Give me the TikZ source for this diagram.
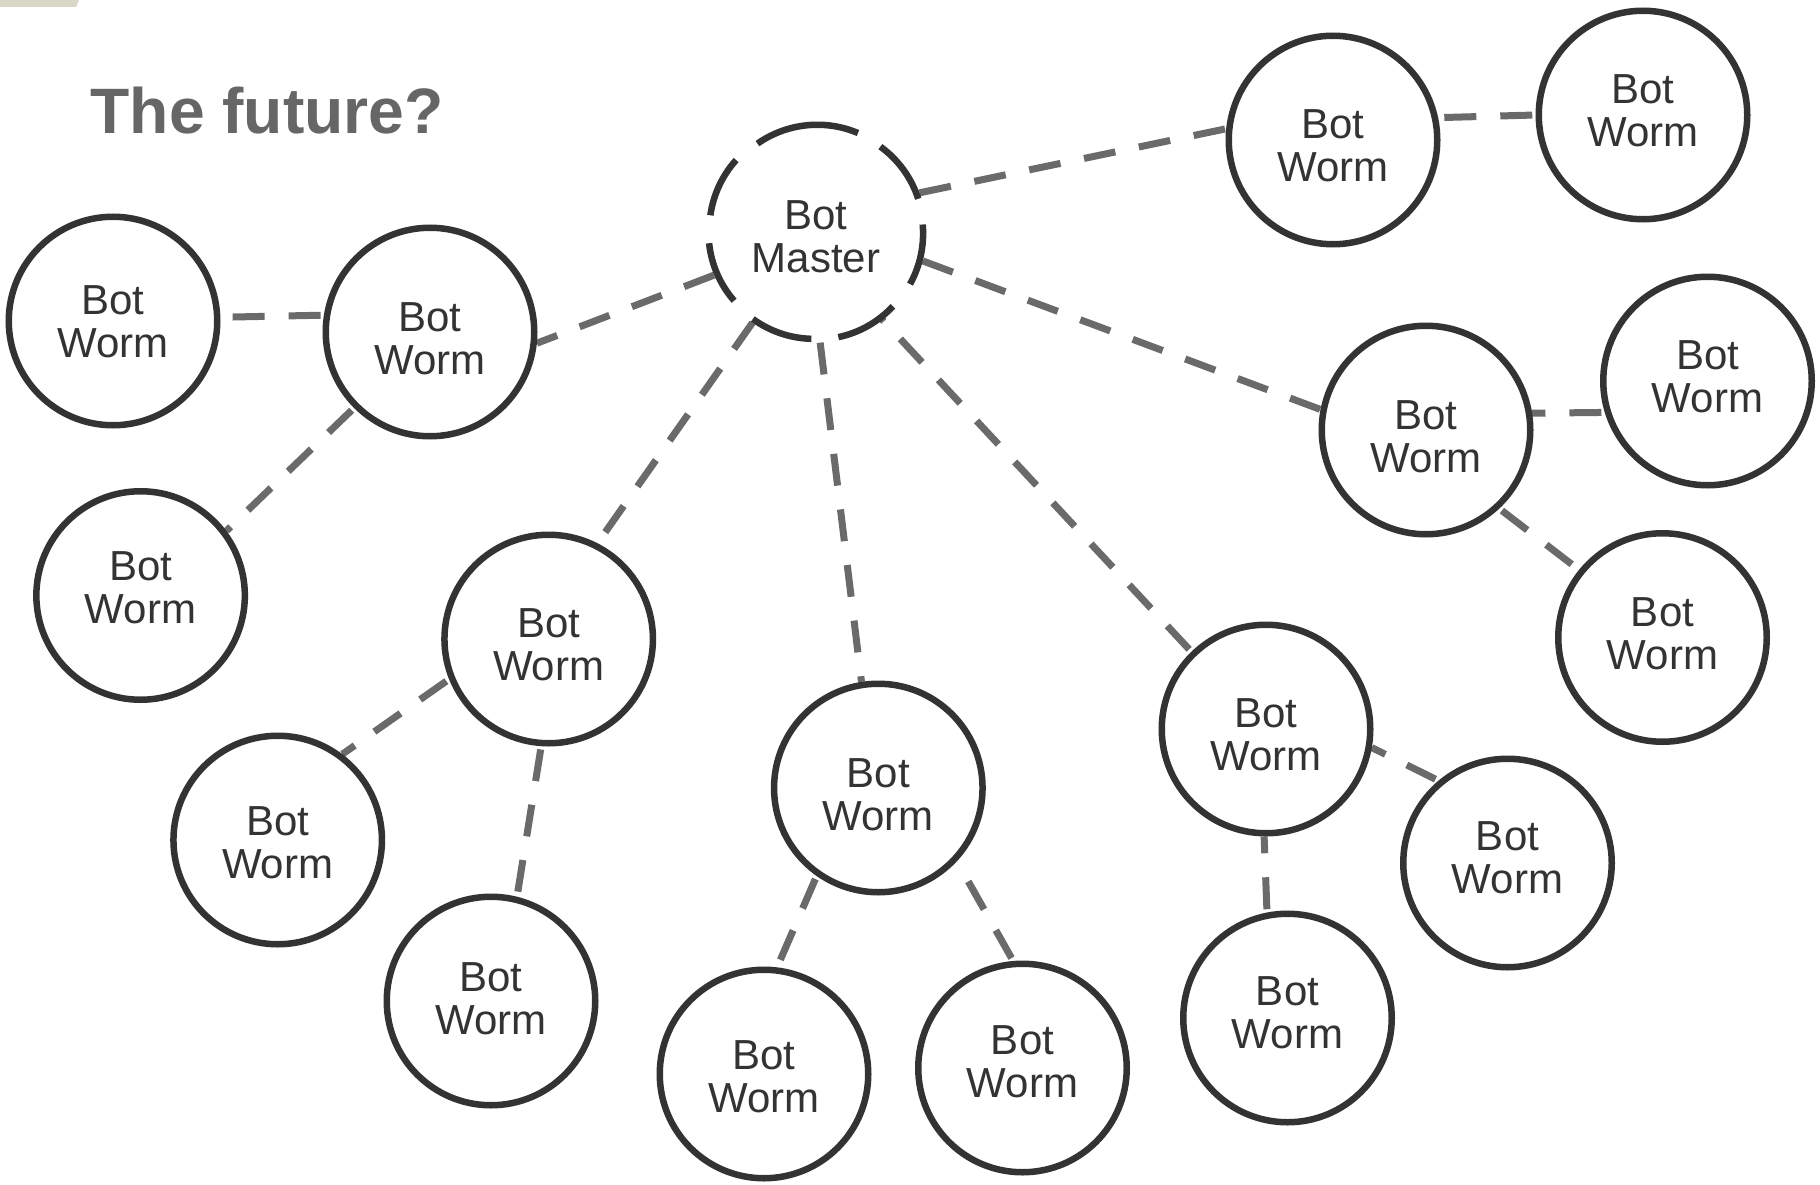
\documentclass[tikz,border=0pt]{standalone}
\usepackage{fontspec}
\setmainfont{Liberation Sans}
\usetikzlibrary{backgrounds}

\definecolor{ring}{HTML}{333333}
\definecolor{linkgray}{HTML}{6A6A6A}
\definecolor{labelgray}{HTML}{333333}
\definecolor{titlegray}{HTML}{666666}
\definecolor{tabbeige}{HTML}{D9D7C8}

% two-line label; #1 = strut height on the first line, #3 = strut depth on the last line
\newcommand{\botlabel}[3]{\rule{0pt}{#1pt}Bot\\#2\rule[-#3pt]{0pt}{#3pt}}

\tikzset{
  bot/.style={circle, draw=ring, line width=6.5pt, minimum size=208.5pt,
    inner sep=0pt, text=labelgray, align=center,
    font=\fontsize{42}{43}\selectfont},
  masterbot/.style={bot, draw=none},
  ringdash/.style={draw=ring, line width=6.5pt},
  link/.style={draw=linkgray, line width=7pt,
    dash pattern=on 32pt off 24pt, dash phase=52.75pt},
}

\begin{document}
\begin{tikzpicture}[x=1pt, y=-1pt]
\useasboundingbox (0,0) rectangle (1820,1185);

% corner tab and heading
\fill[tabbeige] (0,0) -- (79,0) -- (76,7) -- (0,7) -- cycle;
\node[anchor=base west, inner sep=0pt, text=titlegray,
      font=\bfseries\fontsize{64.2}{70}\selectfont] (title) at (90.4,133.3) {The future?};

% the bot master and its dashed outline
\node[masterbot] (M) at (816,232) {\botlabel{39.4}{Master}{0}};
\foreach \a/\b in {67/125, 18/54, -29/5, -78/-43, -126/-91.5, -174/-139, 138/172}
  \draw[ringdash] (M.\a) arc[start angle=\a, end angle=\b, radius=104.25pt];

% bot worms
\node[bot] (A) at (1333,140)    {\botlabel{40}{Worm}{0}};
\node[bot] (B) at (1643,115)    {\botlabel{0}{Worm}{9.4}};
\node[bot] (C) at (430,332)     {\botlabel{42}{Worm}{0}};
\node[bot] (D) at (113,321)     {\botlabel{30}{Worm}{0}};
\node[bot] (E) at (140.6,595.5) {\botlabel{0}{Worm}{15.8}};
\node[bot] (F) at (548.7,639)   {\botlabel{40}{Worm}{0}};
\node[bot] (G) at (277.7,840)   {\botlabel{34.2}{Worm}{0}};
\node[bot] (H) at (491,1001)    {\botlabel{0}{Worm}{4}};
\node[bot] (I) at (878.3,788)   {\botlabel{43}{Worm}{0}};
\node[bot] (J) at (764,1074)    {\botlabel{33.6}{Worm}{0}};
\node[bot] (K) at (1022.5,1068) {\botlabel{0}{Worm}{12}};
\node[bot] (L) at (1266,729)    {\botlabel{40.2}{Worm}{0}};
\node[bot] (N) at (1507.5,863)  {\botlabel{0}{Worm}{10.6}};
\node[bot] (O) at (1287.5,1018) {\botlabel{0}{Worm}{11.4}};
\node[bot] (P) at (1426,430)    {\botlabel{41.6}{Worm}{0}};
\node[bot] (Q) at (1707.5,381)  {\botlabel{0}{Worm}{8.6}};
\node[bot] (R) at (1662.5,637.5){\botlabel{0}{Worm}{8.4}};

% dashed links, kept behind the circles
\begin{scope}[on background layer]
  \fill[white] (0,0) rectangle (1820,1185);
  \draw[link] (M.21)     -- (A.174);
  \draw[link] (M.-157.4) -- (C.-6.9);
  \draw[link] (M.-125.6) -- (F.63);
  \draw[link] (M.-88)    -- (I.99.7);
  \draw[link] (L.134)    -- (M.-53.3);
  \draw[link] (M.-15.8)  -- (P.169);
  \draw[link] (B.180)    -- (A.12.9);
  \draw[link] (C.171.5)  -- (D.2.7);
  \draw[link] (C.-135.6) -- (E.37.8);
  \draw[link] (F.-158.4) -- (G.53);
  \draw[link] (F.-94)    -- (H.76.1);
  \draw[link] (I.-125.6) -- (J.83.7);
  \draw[link] (K.95)     -- (I.-43.8);
  \draw[link] (N.130.8)  -- (L.-10.5);
  \draw[link] (O.101.4)  -- (L.-91.4);
  \draw[link] (P.-47)    -- (R.141.4);
  \draw[link] (Q.-163.4) -- (P.9.8);
\end{scope}
\end{tikzpicture}
\end{document}
